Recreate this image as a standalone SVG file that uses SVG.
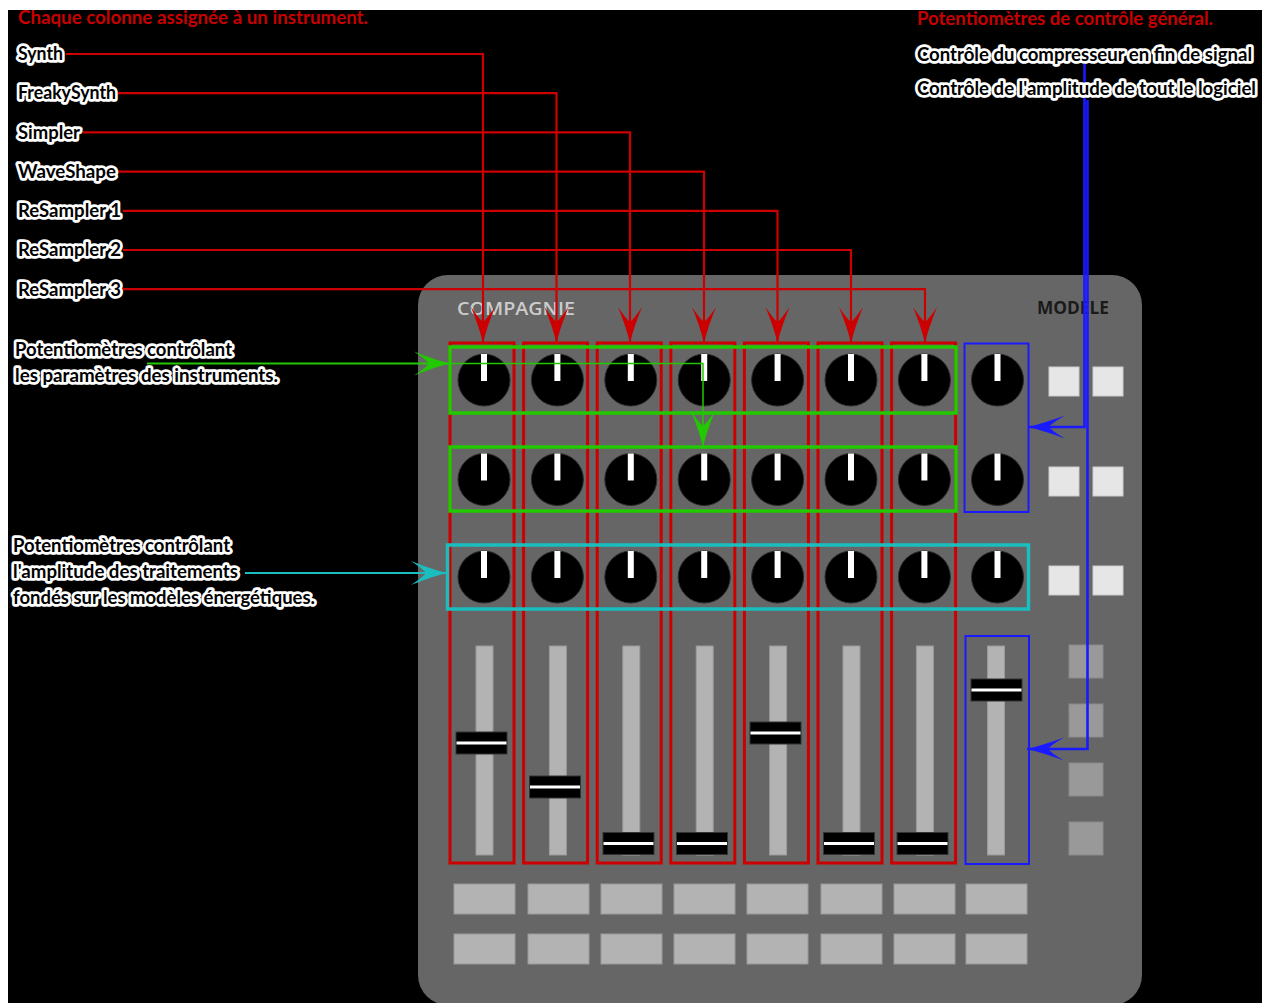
<svg xmlns="http://www.w3.org/2000/svg" width="1262" height="1003" viewBox="0 0 1262 1003">
<defs>
<style>
.lbl{font-family:Lato,"Liberation Sans",sans-serif;font-weight:700;font-size:18.5px;fill:#000;stroke:#fff;stroke-width:5.5px;stroke-linejoin:round;paint-order:stroke}
.ttl{font-family:Lato,"Liberation Sans",sans-serif;font-weight:700;font-size:18px;fill:#c80000}
.col{fill:none;stroke:#cc0000;stroke-width:3}
.knob{fill:#000;stroke:#2a2a2a;stroke-width:1}
.ind{fill:#fff}
.track{fill:#b3b3b3;stroke:#999;stroke-width:1}
.cap{fill:#000;stroke:#333;stroke-width:1}
.stripe{fill:#fff}
.btn{fill:#b3b3b3;stroke:#999;stroke-width:1}
.wsq{fill:#e6e6e6;stroke:#ccc;stroke-width:1}
.gsq{fill:#999;stroke:#8a8a8a;stroke-width:1}
.red{fill:none;stroke:#cc0000;stroke-width:2.2;marker-end:url(#ar)}
.grn{fill:none;stroke:#22c800;stroke-width:2;marker-end:url(#ag)}
.cyn{fill:none;stroke:#1abebe;stroke-width:2;marker-end:url(#ac)}
.blu{fill:none;stroke:#1a1aff;stroke-width:2.6;marker-end:url(#ab)}
</style>
<marker id="ar" markerUnits="userSpaceOnUse" orient="auto" refX="0" refY="0" markerWidth="80" markerHeight="80" viewBox="-40 -20 80 40" overflow="visible"><path d="M0,0 Q-15,-3.5 -36,-12 Q-24,-4 -21,0 Q-24,4 -36,12 Q-15,3.5 0,0 Z" fill="#cc0000"/></marker>
<marker id="ag" markerUnits="userSpaceOnUse" orient="auto" refX="0" refY="0" markerWidth="80" markerHeight="80" viewBox="-40 -20 80 40" overflow="visible"><path d="M0,0 Q-15,-3.5 -36,-12 Q-24,-4 -21,0 Q-24,4 -36,12 Q-15,3.5 0,0 Z" fill="#22c800"/></marker>
<marker id="ac" markerUnits="userSpaceOnUse" orient="auto" refX="0" refY="0" markerWidth="80" markerHeight="80" viewBox="-40 -20 80 40" overflow="visible"><path d="M0,0 Q-15,-3.5 -36,-12 Q-24,-4 -21,0 Q-24,4 -36,12 Q-15,3.5 0,0 Z" fill="#1abebe"/></marker>
<marker id="ab" markerUnits="userSpaceOnUse" orient="auto" refX="0" refY="0" markerWidth="80" markerHeight="80" viewBox="-40 -20 80 40" overflow="visible"><path d="M0,0 Q-15,-3.5 -37,-11.5 Q-24,-4 -21,0 Q-24,4 -37,11.5 Q-15,3.5 0,0 Z" fill="#1a1aff"/></marker>
</defs>

<rect x="0" y="0" width="1262" height="1003" fill="#fff"/>
<rect x="8" y="10" width="1254" height="993" fill="#000"/>

<g id="device">
<rect x="418" y="275" width="724" height="730" rx="30" fill="#666"/>
<text x="457" y="314.5" textLength="118" lengthAdjust="spacingAndGlyphs" font-family="'Open Sans','Liberation Sans',sans-serif" font-weight="600" font-size="18" fill="#ccc">COMPAGNIE</text>
<text x="1037" y="314" textLength="72" lengthAdjust="spacingAndGlyphs" font-family="'Open Sans','Liberation Sans',sans-serif" font-weight="700" font-size="18" fill="#1a1a1a">MODELE</text>
</g>

<g id="columns">
<rect class="col" x="450" y="343" width="64" height="520"/>
<rect class="col" x="523.6" y="343" width="64" height="520"/>
<rect class="col" x="597.2" y="343" width="64" height="520"/>
<rect class="col" x="670.8" y="343" width="64" height="520"/>
<rect class="col" x="744.4" y="343" width="64" height="520"/>
<rect class="col" x="818" y="343" width="64" height="520"/>
<rect class="col" x="891.6" y="343" width="64" height="520"/>
</g>

<g id="knobs">
<g id="knobs-row1">
<circle class="knob" cx="484" cy="380" r="26"/><rect class="ind" x="481" y="354" width="6" height="27"/>
<circle class="knob" cx="557.4" cy="380" r="26"/><rect class="ind" x="554.4" y="354" width="6" height="27"/>
<circle class="knob" cx="630.8" cy="380" r="26"/><rect class="ind" x="627.8" y="354" width="6" height="27"/>
<circle class="knob" cx="704.2" cy="380" r="26"/><rect class="ind" x="701.2" y="354" width="6" height="27"/>
<circle class="knob" cx="777.6" cy="380" r="26"/><rect class="ind" x="774.6" y="354" width="6" height="27"/>
<circle class="knob" cx="851" cy="380" r="26"/><rect class="ind" x="848" y="354" width="6" height="27"/>
<circle class="knob" cx="924.4" cy="380" r="26"/><rect class="ind" x="921.4" y="354" width="6" height="27"/>
<circle class="knob" cx="997.5" cy="380" r="26"/><rect class="ind" x="994.5" y="354" width="6" height="27"/>
</g>
<g id="knobs-row2">
<circle class="knob" cx="484" cy="479.5" r="26"/><rect class="ind" x="481" y="453.5" width="6" height="27"/>
<circle class="knob" cx="557.4" cy="479.5" r="26"/><rect class="ind" x="554.4" y="453.5" width="6" height="27"/>
<circle class="knob" cx="630.8" cy="479.5" r="26"/><rect class="ind" x="627.8" y="453.5" width="6" height="27"/>
<circle class="knob" cx="704.2" cy="479.5" r="26"/><rect class="ind" x="701.2" y="453.5" width="6" height="27"/>
<circle class="knob" cx="777.6" cy="479.5" r="26"/><rect class="ind" x="774.6" y="453.5" width="6" height="27"/>
<circle class="knob" cx="851" cy="479.5" r="26"/><rect class="ind" x="848" y="453.5" width="6" height="27"/>
<circle class="knob" cx="924.4" cy="479.5" r="26"/><rect class="ind" x="921.4" y="453.5" width="6" height="27"/>
<circle class="knob" cx="997.5" cy="479.5" r="26"/><rect class="ind" x="994.5" y="453.5" width="6" height="27"/>
</g>
<g id="knobs-row3">
<circle class="knob" cx="484" cy="577" r="26"/><rect class="ind" x="481" y="551" width="6" height="27"/>
<circle class="knob" cx="557.4" cy="577" r="26"/><rect class="ind" x="554.4" y="551" width="6" height="27"/>
<circle class="knob" cx="630.8" cy="577" r="26"/><rect class="ind" x="627.8" y="551" width="6" height="27"/>
<circle class="knob" cx="704.2" cy="577" r="26"/><rect class="ind" x="701.2" y="551" width="6" height="27"/>
<circle class="knob" cx="777.6" cy="577" r="26"/><rect class="ind" x="774.6" y="551" width="6" height="27"/>
<circle class="knob" cx="851" cy="577" r="26"/><rect class="ind" x="848" y="551" width="6" height="27"/>
<circle class="knob" cx="924.4" cy="577" r="26"/><rect class="ind" x="921.4" y="551" width="6" height="27"/>
<circle class="knob" cx="997.5" cy="577" r="26"/><rect class="ind" x="994.5" y="551" width="6" height="27"/>
</g>
</g>

<g id="faders">
<rect class="track" x="476" y="646" width="17" height="209"/>
<rect class="track" x="549.4" y="646" width="17" height="209"/>
<rect class="track" x="622.8" y="646" width="17" height="209"/>
<rect class="track" x="696.2" y="646" width="17" height="209"/>
<rect class="track" x="769.6" y="646" width="17" height="209"/>
<rect class="track" x="843" y="646" width="17" height="209"/>
<rect class="track" x="916.4" y="646" width="17" height="209"/>
<rect class="track" x="987.5" y="646" width="17" height="209"/>
<rect class="cap" x="456" y="732" width="51" height="22"/><rect class="stripe" x="456.5" y="741.5" width="50" height="3"/>
<rect class="cap" x="529.5" y="776" width="51" height="22"/><rect class="stripe" x="530" y="785.5" width="50" height="3"/>
<rect class="cap" x="603" y="832.5" width="51" height="22"/><rect class="stripe" x="603.5" y="842" width="50" height="3"/>
<rect class="cap" x="676.5" y="832.5" width="51" height="22"/><rect class="stripe" x="677" y="842" width="50" height="3"/>
<rect class="cap" x="750" y="722" width="51" height="22"/><rect class="stripe" x="750.5" y="731.5" width="50" height="3"/>
<rect class="cap" x="823.5" y="832.5" width="51" height="22"/><rect class="stripe" x="824" y="842" width="50" height="3"/>
<rect class="cap" x="897" y="832.5" width="51" height="22"/><rect class="stripe" x="897.5" y="842" width="50" height="3"/>
<rect class="cap" x="971" y="679" width="51" height="22"/><rect class="stripe" x="971.5" y="688.5" width="50" height="3"/>
</g>

<g id="buttons">
<rect class="wsq" x="1049" y="367" width="30" height="29"/><rect class="wsq" x="1093" y="367" width="30" height="29"/>
<rect class="wsq" x="1049" y="467" width="30" height="29"/><rect class="wsq" x="1093" y="467" width="30" height="29"/>
<rect class="wsq" x="1049" y="566" width="30" height="29"/><rect class="wsq" x="1093" y="566" width="30" height="29"/>
<rect class="gsq" x="1069" y="645" width="34" height="33"/>
<rect class="gsq" x="1069" y="704" width="34" height="33"/>
<rect class="gsq" x="1069" y="763" width="34" height="33"/>
<rect class="gsq" x="1069" y="822" width="34" height="33"/>
<rect class="btn" x="454" y="884" width="61" height="30"/><rect class="btn" x="528" y="884" width="61" height="30"/><rect class="btn" x="601" y="884" width="61" height="30"/><rect class="btn" x="674" y="884" width="61" height="30"/><rect class="btn" x="747" y="884" width="61" height="30"/><rect class="btn" x="821" y="884" width="61" height="30"/><rect class="btn" x="894" y="884" width="61" height="30"/><rect class="btn" x="966" y="884" width="61" height="30"/>
<rect class="btn" x="454" y="934" width="61" height="30"/><rect class="btn" x="528" y="934" width="61" height="30"/><rect class="btn" x="601" y="934" width="61" height="30"/><rect class="btn" x="674" y="934" width="61" height="30"/><rect class="btn" x="747" y="934" width="61" height="30"/><rect class="btn" x="821" y="934" width="61" height="30"/><rect class="btn" x="894" y="934" width="61" height="30"/><rect class="btn" x="966" y="934" width="61" height="30"/>
</g>

<g id="groups">
<rect id="grp-params" x="450" y="347" width="506" height="66" fill="none" stroke="#22c800" stroke-width="3.5"/>
<rect id="grp-params2" x="450" y="447" width="506" height="64" fill="none" stroke="#22c800" stroke-width="3.5"/>
<rect id="grp-ampl" x="447.5" y="545" width="581" height="64" fill="none" stroke="#1abebe" stroke-width="3.5"/>
<rect id="grp-gen1" x="964.5" y="343.5" width="64" height="168.5" fill="none" stroke="#1a1aff" stroke-width="2"/>
<rect id="grp-gen2" x="965.5" y="636" width="63.5" height="228" fill="none" stroke="#1a1aff" stroke-width="2"/>
</g>

<g id="connectors">
<path class="red" d="M66,54 H483 V343"/>
<path class="red" d="M118,93.2 H556.5 V343"/>
<path class="red" d="M83,132.4 H630 V343"/>
<path class="red" d="M118,171.6 H704 V343"/>
<path class="red" d="M123,210.8 H777.5 V343"/>
<path class="red" d="M123,250 H851 V343"/>
<path class="red" d="M123,289.2 H925 V343"/>
<path class="grn" d="M147,363.5 H450"/>
<path class="grn" style="stroke-width:1.5" d="M450,363.5 H703 V447"/>
<path class="cyn" d="M245,573 H447"/>
<path class="blu" d="M1084.5,64 V427 H1028"/>
<path class="blu" d="M1087.5,100 V749 H1027"/>
</g>

<g id="labels">
<text class="ttl" x="18" y="24" textLength="350" lengthAdjust="spacingAndGlyphs">Chaque colonne assignée à un instrument.</text>
<text class="ttl" x="917" y="24.5" textLength="296" lengthAdjust="spacingAndGlyphs">Potentiomètres de contrôle général.</text>
<text class="lbl" x="18" y="60" textLength="45" lengthAdjust="spacingAndGlyphs">Synth</text>
<text class="lbl" x="18" y="99.2" textLength="98" lengthAdjust="spacingAndGlyphs">FreakySynth</text>
<text class="lbl" x="18" y="138.6" textLength="62" lengthAdjust="spacingAndGlyphs">Simpler</text>
<text class="lbl" x="18" y="177.8" textLength="98" lengthAdjust="spacingAndGlyphs">WaveShape</text>
<text class="lbl" x="18" y="217" textLength="103" lengthAdjust="spacingAndGlyphs">ReSampler 1</text>
<text class="lbl" x="18" y="256.3" textLength="103" lengthAdjust="spacingAndGlyphs">ReSampler 2</text>
<text class="lbl" x="18" y="295.5" textLength="103" lengthAdjust="spacingAndGlyphs">ReSampler 3</text>
<text class="lbl" x="15" y="356" textLength="217" lengthAdjust="spacingAndGlyphs">Potentiomètres contrôlant</text>
<text class="lbl" x="15" y="381.5" textLength="263" lengthAdjust="spacingAndGlyphs">les paramètres des instruments.</text>
<text class="lbl" x="13" y="552" textLength="217" lengthAdjust="spacingAndGlyphs">Potentiomètres contrôlant</text>
<text class="lbl" x="13" y="578" textLength="225" lengthAdjust="spacingAndGlyphs">l'amplitude des traitements</text>
<text class="lbl" x="13" y="604" textLength="302" lengthAdjust="spacingAndGlyphs">fondés sur les modèles énergétiques.</text>
<text class="lbl" x="917" y="60.5" textLength="335" lengthAdjust="spacingAndGlyphs">Contrôle du compresseur en fin de signal</text>
<text class="lbl" x="917" y="94.5" textLength="339" lengthAdjust="spacingAndGlyphs">Contrôle de l'amplitude de tout le logiciel</text>
</g>
</svg>
